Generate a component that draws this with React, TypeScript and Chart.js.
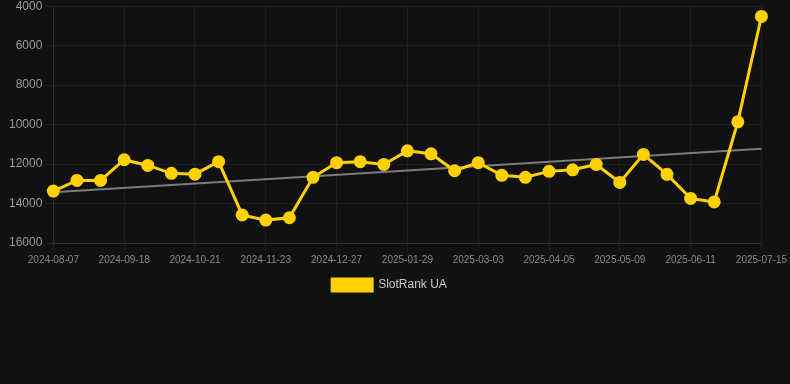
import React, { useEffect, useRef } from "react";
import { Chart, registerables } from "chart.js";

Chart.register(...registerables);

const dates = [
  "2024-08-07", "2024-08-21", "2024-09-04", "2024-09-18", "2024-09-29", "2024-10-10",
  "2024-10-21", "2024-11-01", "2024-11-12", "2024-11-23", "2024-12-05", "2024-12-16",
  "2024-12-27", "2025-01-07", "2025-01-18", "2025-01-29", "2025-02-09", "2025-02-20",
  "2025-03-03", "2025-03-14", "2025-03-25", "2025-04-05", "2025-04-16", "2025-04-27",
  "2025-05-09", "2025-05-20", "2025-05-31", "2025-06-11", "2025-06-22", "2025-07-03",
  "2025-07-15",
];

const rankUA = [
  13370, 12830, 12830, 11780, 12070, 12470, 12510, 11880, 14580, 14840,
  14720, 12670, 11930, 11880, 12020, 11330, 11480, 12340, 11930, 12570,
  12670, 12370, 12290, 12020, 12930, 11510, 12520, 13740, 13920, 9860,
  4520,
];

const trendStart = 13430;
const trendEnd = 11230;

const yTicks = { min: 4000, max: 16000, step: 2000 };

export default function App() {
  const ref = useRef<HTMLCanvasElement | null>(null);

  useEffect(() => {
    if (!ref.current) return;
    const trend = dates.map((_, i) =>
      i === 0 ? trendStart : i === dates.length - 1 ? trendEnd : null
    );
    const chart = new Chart(ref.current, {
      type: "line",
      data: {
        labels: dates,
        datasets: [
          {
            label: "SlotRank UA",
            data: rankUA,
            borderColor: "#FFD100",
            backgroundColor: "#FFD100",
            borderWidth: 3,
            pointRadius: 5,
            pointBackgroundColor: "#FFD100",
            pointBorderColor: "#FFD100",
            tension: 0,
          },
          {
            label: "trend",
            data: trend,
            borderColor: "rgba(160,160,160,0.75)",
            borderWidth: 2,
            pointRadius: 0,
            spanGaps: true,
          },
        ],
      },
      options: {
        responsive: false,
        animation: false,
        maintainAspectRatio: false,
        layout: { padding: { left: 6, right: 17 } },
        plugins: {
          legend: {
            position: "bottom",
            labels: {
              color: "#cccccc",
              font: { size: 12, family: "Arial, 'Liberation Sans', sans-serif" },
              filter: (item) => item.text !== "trend",
            },
          },
          tooltip: { enabled: false },
        },
        scales: {
          x: {
            grid: { color: "rgba(255,255,255,0.05)" },
            border: { color: "rgba(255,255,255,0.07)" },
            ticks: {
              autoSkip: false,
              maxRotation: 0,
              color: "#888888",
              font: { size: 10, family: "Arial, 'Liberation Sans', sans-serif" },
              callback: function (_v, i) {
                return i % 3 === 0 ? dates[i] : null;
              },
            },
          },
          y: {
            reverse: true,
            min: yTicks.min,
            max: yTicks.max,
            grid: { color: "rgba(255,255,255,0.06)" },
            border: { color: "rgba(255,255,255,0.07)" },
            ticks: {
              stepSize: yTicks.step,
              color: "#999999",
              font: { size: 12, family: "Arial, 'Liberation Sans', sans-serif" },
              callback: (v) => String(v),
            },
          },
        },
      },
    });
    return () => chart.destroy();
  }, []);

  return (
    <div
      style={{
        position: "fixed",
        left: 0,
        top: 0,
        width: 790,
        height: 384,
        background: "#111111",
        overflow: "hidden",
      }}
    >
      <canvas
        ref={ref}
        width={790}
        height={305}
        style={{ display: "block", marginTop: -4 }}
      />
    </div>
  );
}
